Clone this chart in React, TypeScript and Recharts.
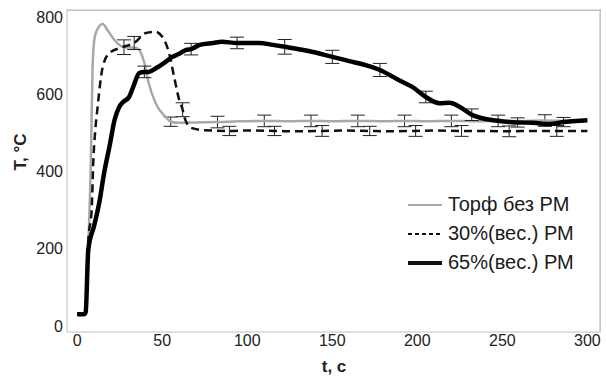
import React from 'react';
import {
  LineChart,
  Line,
  XAxis,
  YAxis,
  ErrorBar,
  ReferenceLine
} from 'recharts';

// Торф без РМ
const peatTime = [0, 4, 5, 6.5, 8, 9, 10, 11.5, 15, 18, 22, 26, 27.5, 35, 39.5, 42, 46, 52, 55, 60, 70, 82.5, 95, 110, 125, 137.5, 150, 165, 180, 192.5, 205, 220, 235, 247.5, 260, 275, 290, 300];
const peatTemp = [32, 32, 35, 205, 420, 660, 740, 765, 782, 765, 740, 724, 722, 720, 681, 630, 578, 541, 529, 526, 527, 528, 530, 531, 530, 531, 530, 531, 530, 531, 530, 531, 530, 531, 531, 532, 531, 533];
const peatErr = [null, null, null, null, null, null, null, null, null, null, null, null, 19, null, null, null, null, null, 12, null, null, 15, null, 15, null, 15, null, 15, null, 15, null, 15, null, 15, null, 15, null, null];

// 30%(вес.) РМ
const rm30Time = [0, 4, 5, 6.5, 8.5, 9.5, 10.5, 12, 15, 19, 26.5, 33.5, 40.5, 46, 50, 54, 57, 60, 62, 63, 67, 75, 89.5, 100, 116, 130, 144, 158, 172, 185, 199, 212, 226, 240, 254, 268, 282, 300];
const rm30Temp = [30, 30, 33, 220, 300, 430, 500, 567, 671, 707, 722, 733, 759, 762, 749, 707, 645, 585, 560, 541, 513, 507, 505, 506, 505, 504, 505, 506, 505, 504, 505, 506, 505, 505, 504, 505, 505, 505];
const rm30Err = [null, null, null, null, null, null, null, null, null, null, null, 17, null, null, null, null, null, null, 18, null, null, null, 12, null, 12, null, 14, null, 12, null, 14, null, 14, null, 14, null, 14, null];

// 65%(вес.) РМ
const rm65Time = [0, 4, 5, 6.5, 10, 13, 16, 19, 22, 24.7, 27, 30.5, 33, 36.5, 39.5, 42, 46.5, 52, 56, 60, 64, 67, 72, 80, 85, 94, 101, 107, 115, 122, 136, 150, 160, 170, 178, 189, 197, 205, 213, 219, 225, 232, 240, 246, 254, 259, 268, 278, 286, 293, 300];
const rm65Temp = [30, 30, 36, 197, 260, 320, 400, 465, 534, 567, 580, 593, 620, 655, 658, 658, 668, 684, 697, 705, 715, 717, 728, 733, 736, 733, 733, 733, 728, 723, 712, 697, 686, 675, 663, 637, 619, 593, 577, 578, 567, 547, 536, 532, 528, 527, 526, 523, 528, 531, 533];
const rm65Err = [null, null, null, null, null, null, null, null, null, null, null, null, null, null, 15, null, null, null, null, null, null, 15, null, null, null, 15, null, null, null, 19, null, 17, null, null, 17, null, null, 15, null, null, null, 15, null, null, null, 12, null, null, 12, null, null];

const xTicks = [0, 50, 100, 150, 200, 250, 300];
const yTicks = [0, 200, 400, 600, 800];
const xDomain = [-6, 308];
const yDomain = [-16, 821];

const toPoints = (ts: number[], vs: number[], es: (number | null)[]) =>
  ts.map((t, i) => ({ t, T: vs[i], err: es[i] ?? undefined }));

const peatData = toPoints(peatTime, peatTemp, peatErr);
const rm30Data = toPoints(rm30Time, rm30Temp, rm30Err);
const rm65Data = toPoints(rm65Time, rm65Temp, rm65Err);

const FONT = '"Liberation Sans", Arial, sans-serif';
const FRAME = '#c0c0c0';

const legendItems = [
  { name: 'Торф без РМ', color: '#a8a8a8', width: 2, dash: undefined },
  { name: '30%(вес.) РМ', color: '#111', width: 2, dash: '4 3' },
  { name: '65%(вес.) РМ', color: '#111', width: 4, dash: undefined }
];

const ChartLegend = () => (
  <div style={{ position: 'absolute', left: 405, top: 190, fontFamily: FONT, fontSize: 20, color: '#1a1a1a' }}>
    {legendItems.map(item => (
      <div key={item.name} style={{ height: 29, display: 'flex', alignItems: 'center' }}>
        <svg width={40} height={10} style={{ marginLeft: 3 }}>
          <line x1={0} y1={5} x2={34} y2={5} stroke={item.color} strokeWidth={item.width} strokeDasharray={item.dash} />
        </svg>
        <span>{item.name}</span>
      </div>
    ))}
  </div>
);

export default function App() {
  return (
    <div style={{ position: 'absolute', left: 0, top: 0, width: 606, height: 378, background: '#fff' }}>
      <LineChart width={606} height={378} margin={{ top: 9, right: 5, left: 0, bottom: 0 }}>
        <XAxis
          dataKey="t"
          type="number"
          domain={xDomain}
          ticks={xTicks}
          allowDataOverflow
          stroke={FRAME}
          tickLine={false}
          tickSize={0}
          tickMargin={3}
          height={46}
          tick={{ fill: '#222', fontSize: 16, fontFamily: FONT }}
          label={{ value: 't, c', position: 'insideBottom', offset: 6, fill: '#222', fontSize: 17, fontWeight: 'bold', fontFamily: FONT }}
        />
        <YAxis
          type="number"
          domain={yDomain}
          ticks={yTicks}
          allowDataOverflow
          stroke={FRAME}
          tickLine={false}
          tickSize={0}
          tickMargin={4}
          width={67}
          tick={{ fill: '#222', fontSize: 16, fontFamily: FONT }}
          label={{ value: 'T, °C', angle: -90, position: 'insideLeft', offset: 20, fill: '#222', fontSize: 17, fontWeight: 'bold', fontFamily: FONT }}
        />
        {/* top and right edges of the frame */}
        <ReferenceLine y={818} stroke={FRAME} strokeWidth={1.5} ifOverflow="extendDomain" />
        <ReferenceLine x={307.5} stroke={FRAME} strokeWidth={1.5} ifOverflow="extendDomain" />
        <Line data={peatData} dataKey="T" type="monotone" stroke="#a8a8a8" strokeWidth={2.5} dot={false} isAnimationActive={false}>
          <ErrorBar dataKey="err" direction="y" width={7} stroke="#222" strokeWidth={1} isAnimationActive={false} />
        </Line>
        <Line data={rm30Data} dataKey="T" type="monotone" stroke="#111" strokeWidth={2.5} strokeDasharray="8 5" dot={false} isAnimationActive={false}>
          <ErrorBar dataKey="err" direction="y" width={7} stroke="#222" strokeWidth={1} isAnimationActive={false} />
        </Line>
        <Line data={rm65Data} dataKey="T" type="monotone" stroke="#000" strokeWidth={4.5} dot={false} isAnimationActive={false}>
          <ErrorBar dataKey="err" direction="y" width={7} stroke="#222" strokeWidth={1} isAnimationActive={false} />
        </Line>
      </LineChart>
      <ChartLegend />
    </div>
  );
}
